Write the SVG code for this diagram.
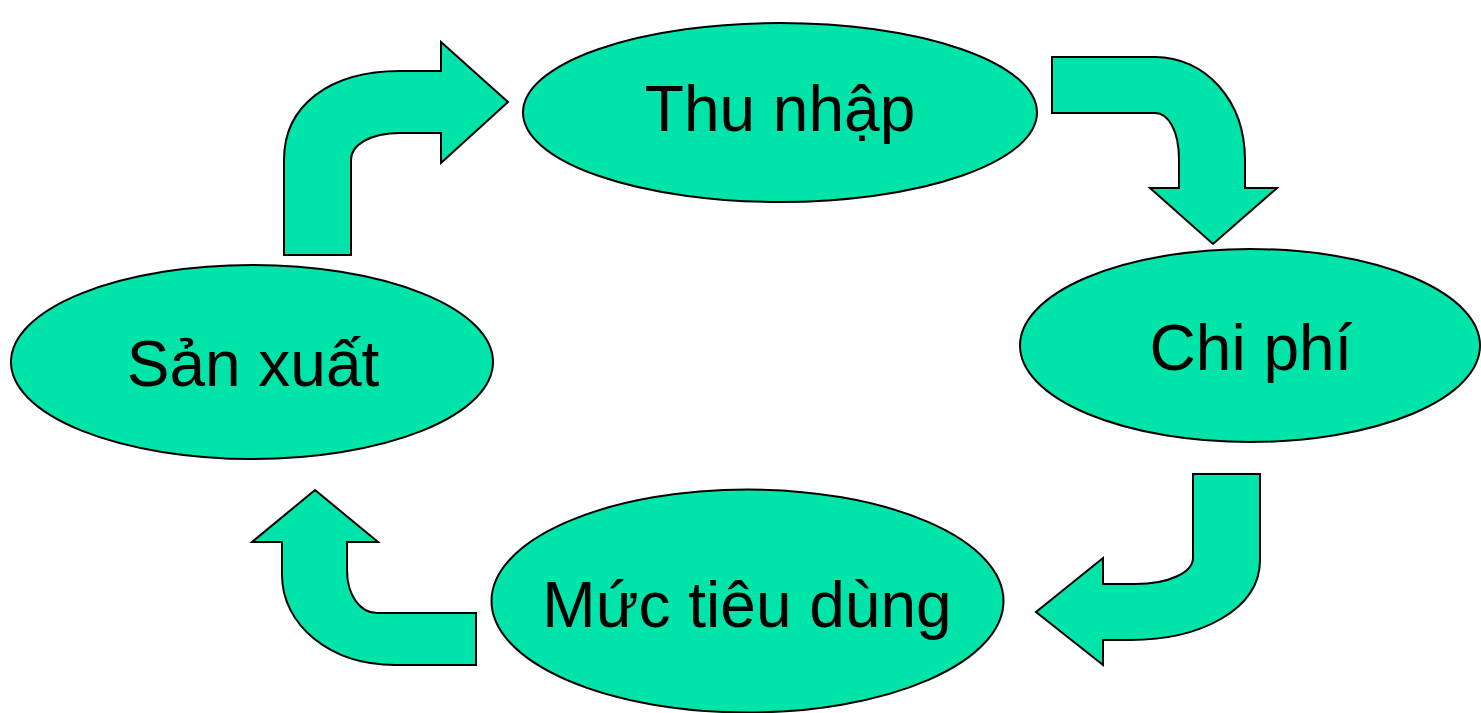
<svg xmlns="http://www.w3.org/2000/svg" width="1481" height="713" viewBox="0 0 1481 713">
<style>
.shape{fill:#00E3A9;stroke:#000;stroke-width:2;stroke-linejoin:miter}
.lbl{font-family:"Liberation Sans",Arial,sans-serif;font-size:64px;fill:#000;text-anchor:middle}
</style>
<rect width="1481" height="713" fill="#fff"/>
<g id="connectors">
<path class="shape" d="M284,255 L284,160 C284,105 330,71 400,71 L441,71 L441,42 L508,102 L441,163 L441,133 L400,133 C370,133 351,145 351,160 L351,255 Z"/>
<path class="shape" d="M1052,57 L1155,57 C1205,57 1245,100 1245,160 L1245,188 L1277,188 L1213,244 L1150,188 L1179,188 L1179,160 C1179,130 1168,113 1155,113 L1052,113 Z"/>
<path class="shape" d="M1193,474 L1260,474 L1260,560 C1260,610 1200,640 1130,640 L1103,640 L1103,665 L1036,612 L1103,558 L1103,584 L1135,584 C1170,584 1193,572 1193,558 Z"/>
<path class="shape" d="M315,490 L378,542 L347,542 L347,570 C347,595 360,613 377,613 L476,613 L476,665 L395,665 C330,665 282,625 282,575 L282,542 L252,542 Z"/>
</g>
<g id="thu-nhap">
<ellipse class="shape" cx="780" cy="112.5" rx="257" ry="89.5" stroke-width="1.5"/>
<text class="lbl" x="780" y="131">Thu nhập</text>
</g>
<g id="chi-phi">
<ellipse class="shape" cx="1250" cy="345.5" rx="230" ry="96.5" stroke-width="1.5"/>
<text class="lbl" x="1251" y="370">Chi phí</text>
</g>
<g id="muc-tieu-dung">
<ellipse class="shape" cx="747.5" cy="601" rx="256" ry="111.5" stroke-width="1.5"/>
<text class="lbl" x="747" y="627">Mức tiêu dùng</text>
</g>
<g id="san-xuat">
<ellipse class="shape" cx="252" cy="362" rx="241" ry="97" stroke-width="1.5"/>
<text class="lbl" x="253" y="386">Sản xuất</text>
</g>
</svg>
